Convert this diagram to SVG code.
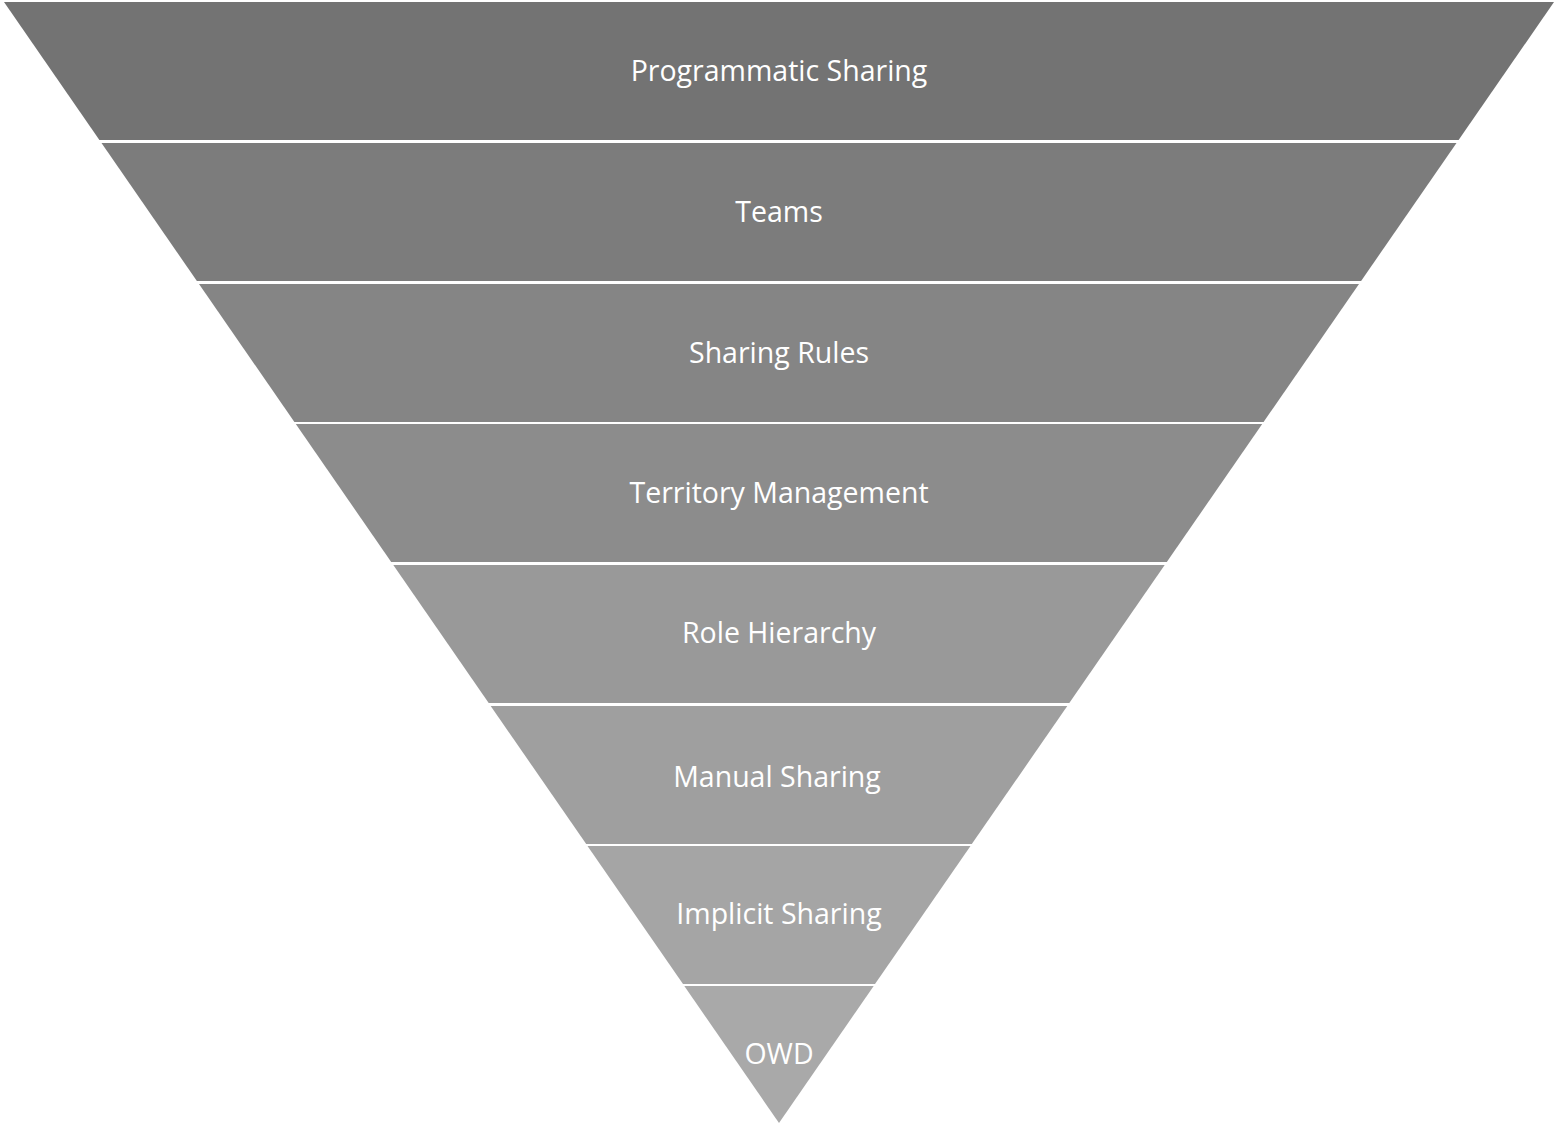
<svg xmlns="http://www.w3.org/2000/svg" width="1559" height="1127" viewBox="0 0 1559 1127">
<style>
.lbl{font-family:"Open Sans","Liberation Sans",sans-serif;font-size:28.5px;fill:#ffffff;text-anchor:middle}
</style>
<rect width="1559" height="1127" fill="#ffffff"/>
<g id="band1"><polygon points="4,2 1554,2 1458.6,140 99.4,140" fill="#737373"/><text class="lbl" x="779" y="81">Programmatic Sharing</text></g>
<g id="band2"><polygon points="101.5,143 1456.5,143 1361.1,281 196.9,281" fill="#7c7c7c"/><text class="lbl" x="779" y="222">Teams</text></g>
<g id="band3"><polygon points="199,284 1359,284 1263.6,422 294.4,422" fill="#858585"/><text class="lbl" x="779" y="363">Sharing Rules</text></g>
<g id="band4"><polygon points="295.8,424 1262.2,424 1166.8,562 391.2,562" fill="#8c8c8c"/><text class="lbl" x="779" y="503">Territory Management</text></g>
<g id="band5"><polygon points="393.3,565 1164.7,565 1069.3,703 488.7,703" fill="#999999"/><text class="lbl" x="779" y="643">Role Hierarchy</text></g>
<g id="band6"><polygon points="490.7,706 1067.3,706 971.8,844 586.2,844" fill="#9f9f9f"/><text class="lbl" x="777" y="787">Manual Sharing</text></g>
<g id="band7"><polygon points="587.5,846 970.5,846 875,984 683,984" fill="#a5a5a5"/><text class="lbl" x="779" y="924">Implicit Sharing</text></g>
<g id="band8"><polygon points="684.3,986 873.7,986 779,1123" fill="#a9a9a9"/><text class="lbl" x="779" y="1064">OWD</text></g>
<g id="connectors"></g>
</svg>
